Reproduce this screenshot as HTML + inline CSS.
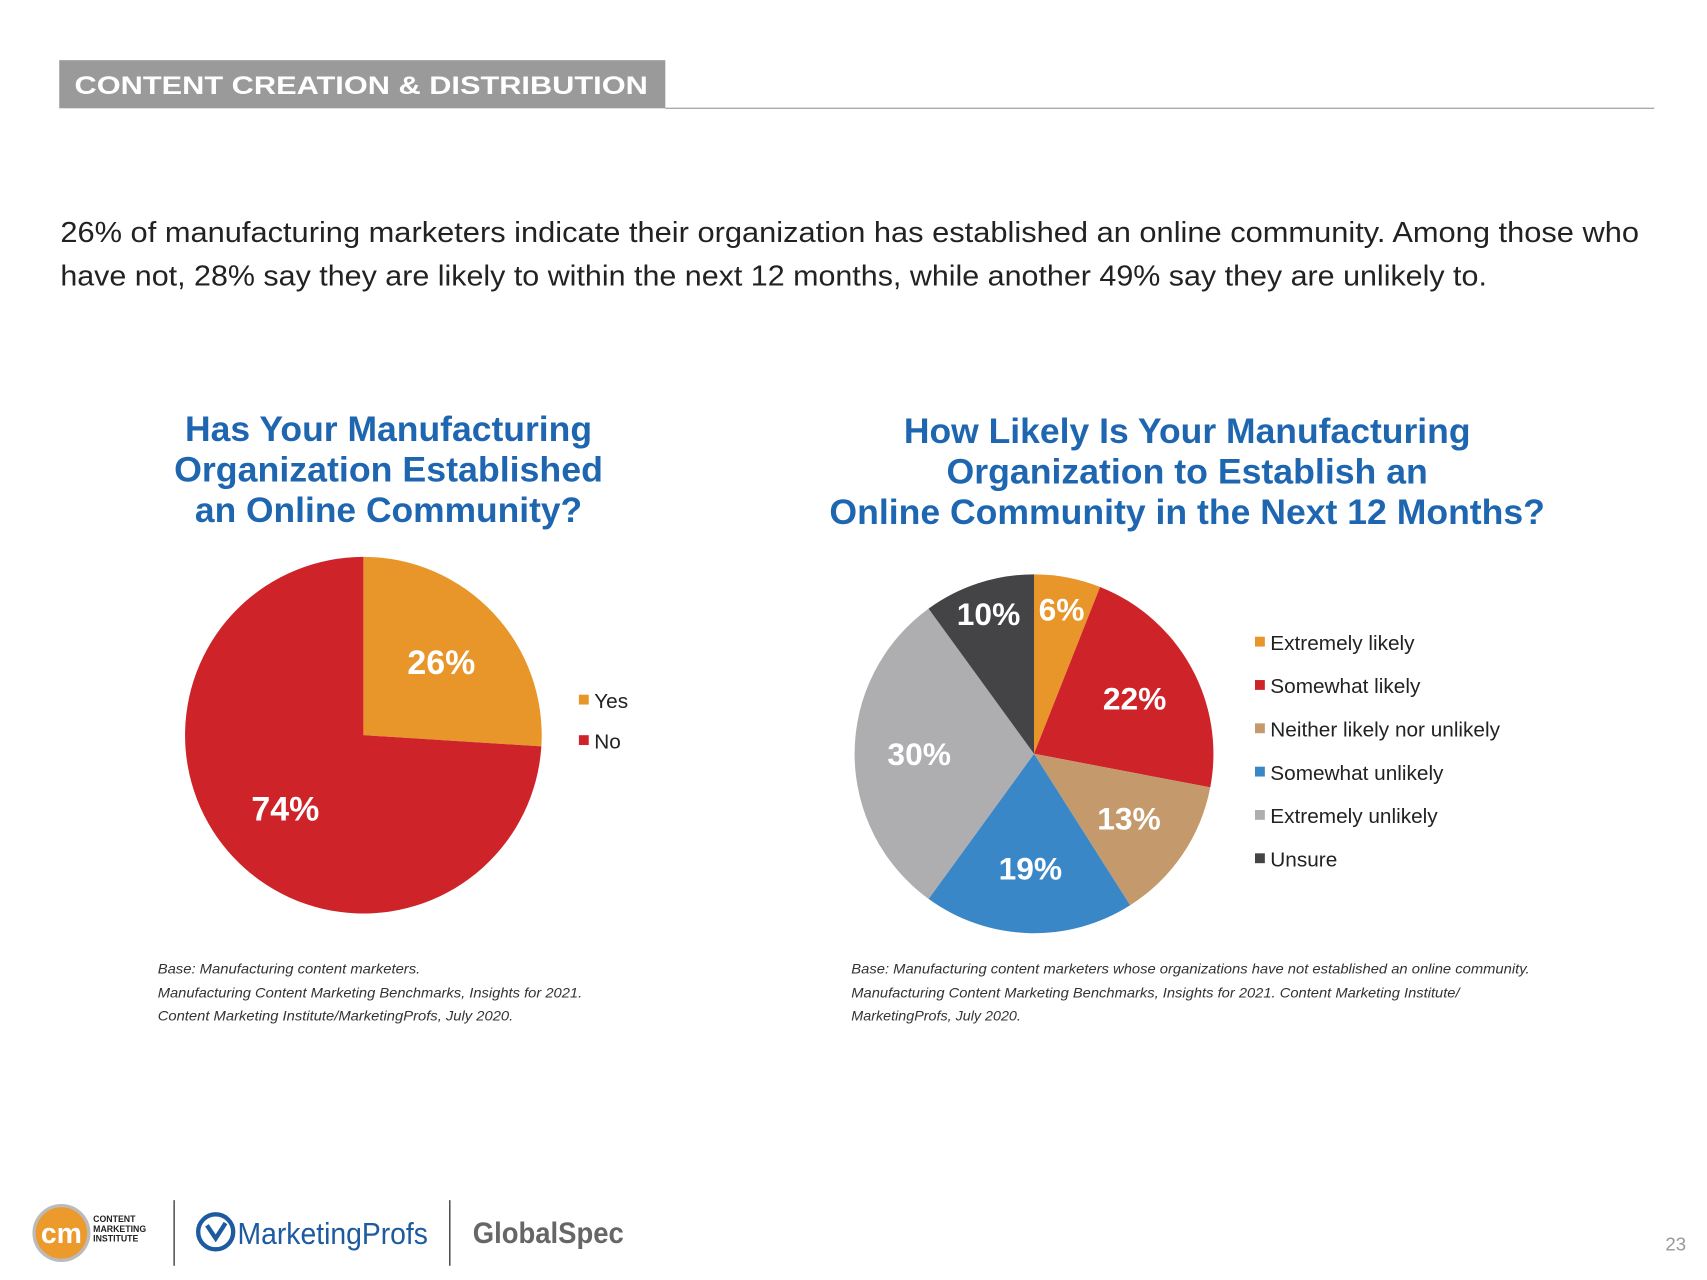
<!DOCTYPE html>
<html><head><meta charset="utf-8"><style>
html,body{margin:0;padding:0;background:#fff;}
svg{display:block;font-family:"Liberation Sans",sans-serif;}
</style></head><body>
<svg id="page" width="1707" height="1280" viewBox="0 0 1560 1170" xmlns="http://www.w3.org/2000/svg">
<rect x="0" y="0" width="1560" height="1170" fill="#fff"/>
<g>
<rect x="54" y="55" width="554" height="44" fill="#9a9a9a"/>
<text x="68" y="86" fill="#fff" font-size="23" font-weight="bold" textLength="524" lengthAdjust="spacingAndGlyphs">CONTENT CREATION &amp; DISTRIBUTION</text>
<line x1="608" y1="99" x2="1512" y2="99" stroke="#aaa" stroke-width="1.2"/>
</g>
<g fill="#222" font-size="26">
<text x="55" y="221" textLength="1443" lengthAdjust="spacingAndGlyphs">26% of manufacturing marketers indicate their organization has established an online community. Among those who</text>
<text x="55" y="261" textLength="1304" lengthAdjust="spacingAndGlyphs">have not, 28% say they are likely to within the next 12 months, while another 49% say they are unlikely to.</text>
</g>
<g fill="#1f66b1" font-size="32" font-weight="bold" text-anchor="middle">
<text x="355" y="403" textLength="372" lengthAdjust="spacingAndGlyphs">Has Your Manufacturing</text>
<text x="355" y="440" textLength="392" lengthAdjust="spacingAndGlyphs">Organization Established</text>
<text x="355" y="477" textLength="354" lengthAdjust="spacingAndGlyphs">an Online Community?</text>
</g>
<g fill="#1f66b1" font-size="32" font-weight="bold" text-anchor="middle">
<text x="1085" y="405" textLength="518" lengthAdjust="spacingAndGlyphs">How Likely Is Your Manufacturing</text>
<text x="1085" y="442" textLength="440" lengthAdjust="spacingAndGlyphs">Organization to Establish an</text>
<text x="1085" y="479" textLength="654" lengthAdjust="spacingAndGlyphs">Online Community in the Next 12 Months?</text>
</g>
<g id="leftPie"></g>
<g id="rightPie"></g>
<g fill="#333" font-size="12.5" font-style="italic">
<text x="144" y="890" textLength="240" lengthAdjust="spacingAndGlyphs">Base: Manufacturing content marketers.</text>
<text x="144" y="912" textLength="388" lengthAdjust="spacingAndGlyphs">Manufacturing Content Marketing Benchmarks, Insights for 2021.</text>
<text x="144" y="933" textLength="325" lengthAdjust="spacingAndGlyphs">Content Marketing Institute/MarketingProfs, July 2020.</text>
</g>
<g fill="#333" font-size="12.5" font-style="italic">
<text x="778" y="890" textLength="620" lengthAdjust="spacingAndGlyphs">Base: Manufacturing content marketers whose organizations have not established an online community.</text>
<text x="778" y="912" textLength="556" lengthAdjust="spacingAndGlyphs">Manufacturing Content Marketing Benchmarks, Insights for 2021. Content Marketing Institute/</text>
<text x="778" y="933" textLength="155" lengthAdjust="spacingAndGlyphs">MarketingProfs, July 2020.</text>
</g>
<g>
<g>
<circle cx="56" cy="1127" r="25" fill="#ec9a2c" stroke="#bbb" stroke-width="3"/>
<text x="56" y="1136" fill="#fff" font-size="26" font-weight="bold" text-anchor="middle">cm</text>
<text x="85" y="1117" font-size="8" font-weight="bold" fill="#222">CONTENT</text>
<text x="85" y="1126" font-size="8" font-weight="bold" fill="#222">MARKETING</text>
<text x="85" y="1135" font-size="8" font-weight="bold" fill="#222">INSTITUTE</text>
</g>
<line x1="159" y1="1097" x2="159" y2="1157" stroke="#333" stroke-width="1.2"/>
<g>
<circle cx="197" cy="1126" r="16" fill="#fff" stroke="#1d5aa0" stroke-width="4"/>
<path d="M189 1120 L197 1132 L206 1118" stroke="#1d5aa0" stroke-width="4" fill="none"/>
<text x="217" y="1137" font-size="28" fill="#1d5aa0" textLength="174" lengthAdjust="spacingAndGlyphs">MarketingProfs</text>
</g>
<line x1="411" y1="1097" x2="411" y2="1157" stroke="#333" stroke-width="1.2"/>
<text x="432" y="1136" font-size="27" font-weight="bold" fill="#666" textLength="138" lengthAdjust="spacingAndGlyphs">GlobalSpec</text>
</g>
<text x="1541" y="1143" font-size="17" fill="#999" text-anchor="end">23</text>
</svg>
<script>
const leftCategories = ['Yes', 'No'];
const leftValues = [26, 74];
const leftColors = ['#e8962a', '#cf232a'];
const rightCategories = ['Extremely likely', 'Somewhat likely', 'Neither likely nor unlikely', 'Somewhat unlikely', 'Extremely unlikely', 'Unsure'];
const rightValues = [6, 22, 13, 19, 30, 10];
const rightColors = ['#e8962a', '#cf232a', '#c49a6c', '#3a87c8', '#aeaeb0', '#444446'];
const NS = 'http://www.w3.org/2000/svg';
function mk(tag, attrs, parent) {
  const el = document.createElementNS(NS, tag);
  for (const k in attrs) el.setAttribute(k, attrs[k]);
  parent.appendChild(el);
  return el;
}
function drawPie(g, cats, vals, colors, cx, cy, r, labelR, fontSize, legend) {
  const total = vals.reduce((a, b) => a + b, 0);
  let acc = 0;
  const pt = (frac, rr) => [cx + rr * Math.sin(frac * 2 * Math.PI), cy - rr * Math.cos(frac * 2 * Math.PI)];
  vals.forEach((v, i) => {
    const a0 = acc / total, a1 = (acc + v) / total;
    const p0 = pt(a0, r), p1 = pt(a1, r);
    const large = (a1 - a0) > 0.5 ? 1 : 0;
    const path = mk('path', {d: `M${cx} ${cy} L${p0[0]} ${p0[1]} A${r} ${r} 0 ${large} 1 ${p1[0]} ${p1[1]} Z`, fill: colors[i]}, g);
    
    
    const lr = (v / total <= 0.1) ? 0.82 : labelR;
    const m = pt((a0 + a1) / 2, r * lr);
    const t = mk('text', {x: m[0], y: m[1] + fontSize * 0.35, fill: '#fff', 'font-size': fontSize, 'font-weight': 'bold', 'text-anchor': 'middle'}, g);
    t.textContent = v + '%';
    
    
    acc += v;
  });
  cats.forEach((c, i) => {
    const y = legend.y + i * legend.gap;
    const sq = mk('rect', {x: legend.x, y: y - 5, width: 9, height: 9, fill: colors[i]}, g);
    
    
    const t = mk('text', {x: legend.x + 14, y: y + 7, 'font-size': legend.fs, fill: '#222'}, g);
    t.textContent = c;
    
    
  });
}
drawPie(document.getElementById('leftPie'), leftCategories, leftValues, leftColors, 332, 672, 163, 0.6, 31, {x: 529, y: 640, gap: 37, fs: 19});
drawPie(document.getElementById('rightPie'), rightCategories, rightValues, rightColors, 945, 689, 164, 0.64, 29, {x: 1147, y: 587, gap: 39.6, fs: 19});
</script>
</body></html>
